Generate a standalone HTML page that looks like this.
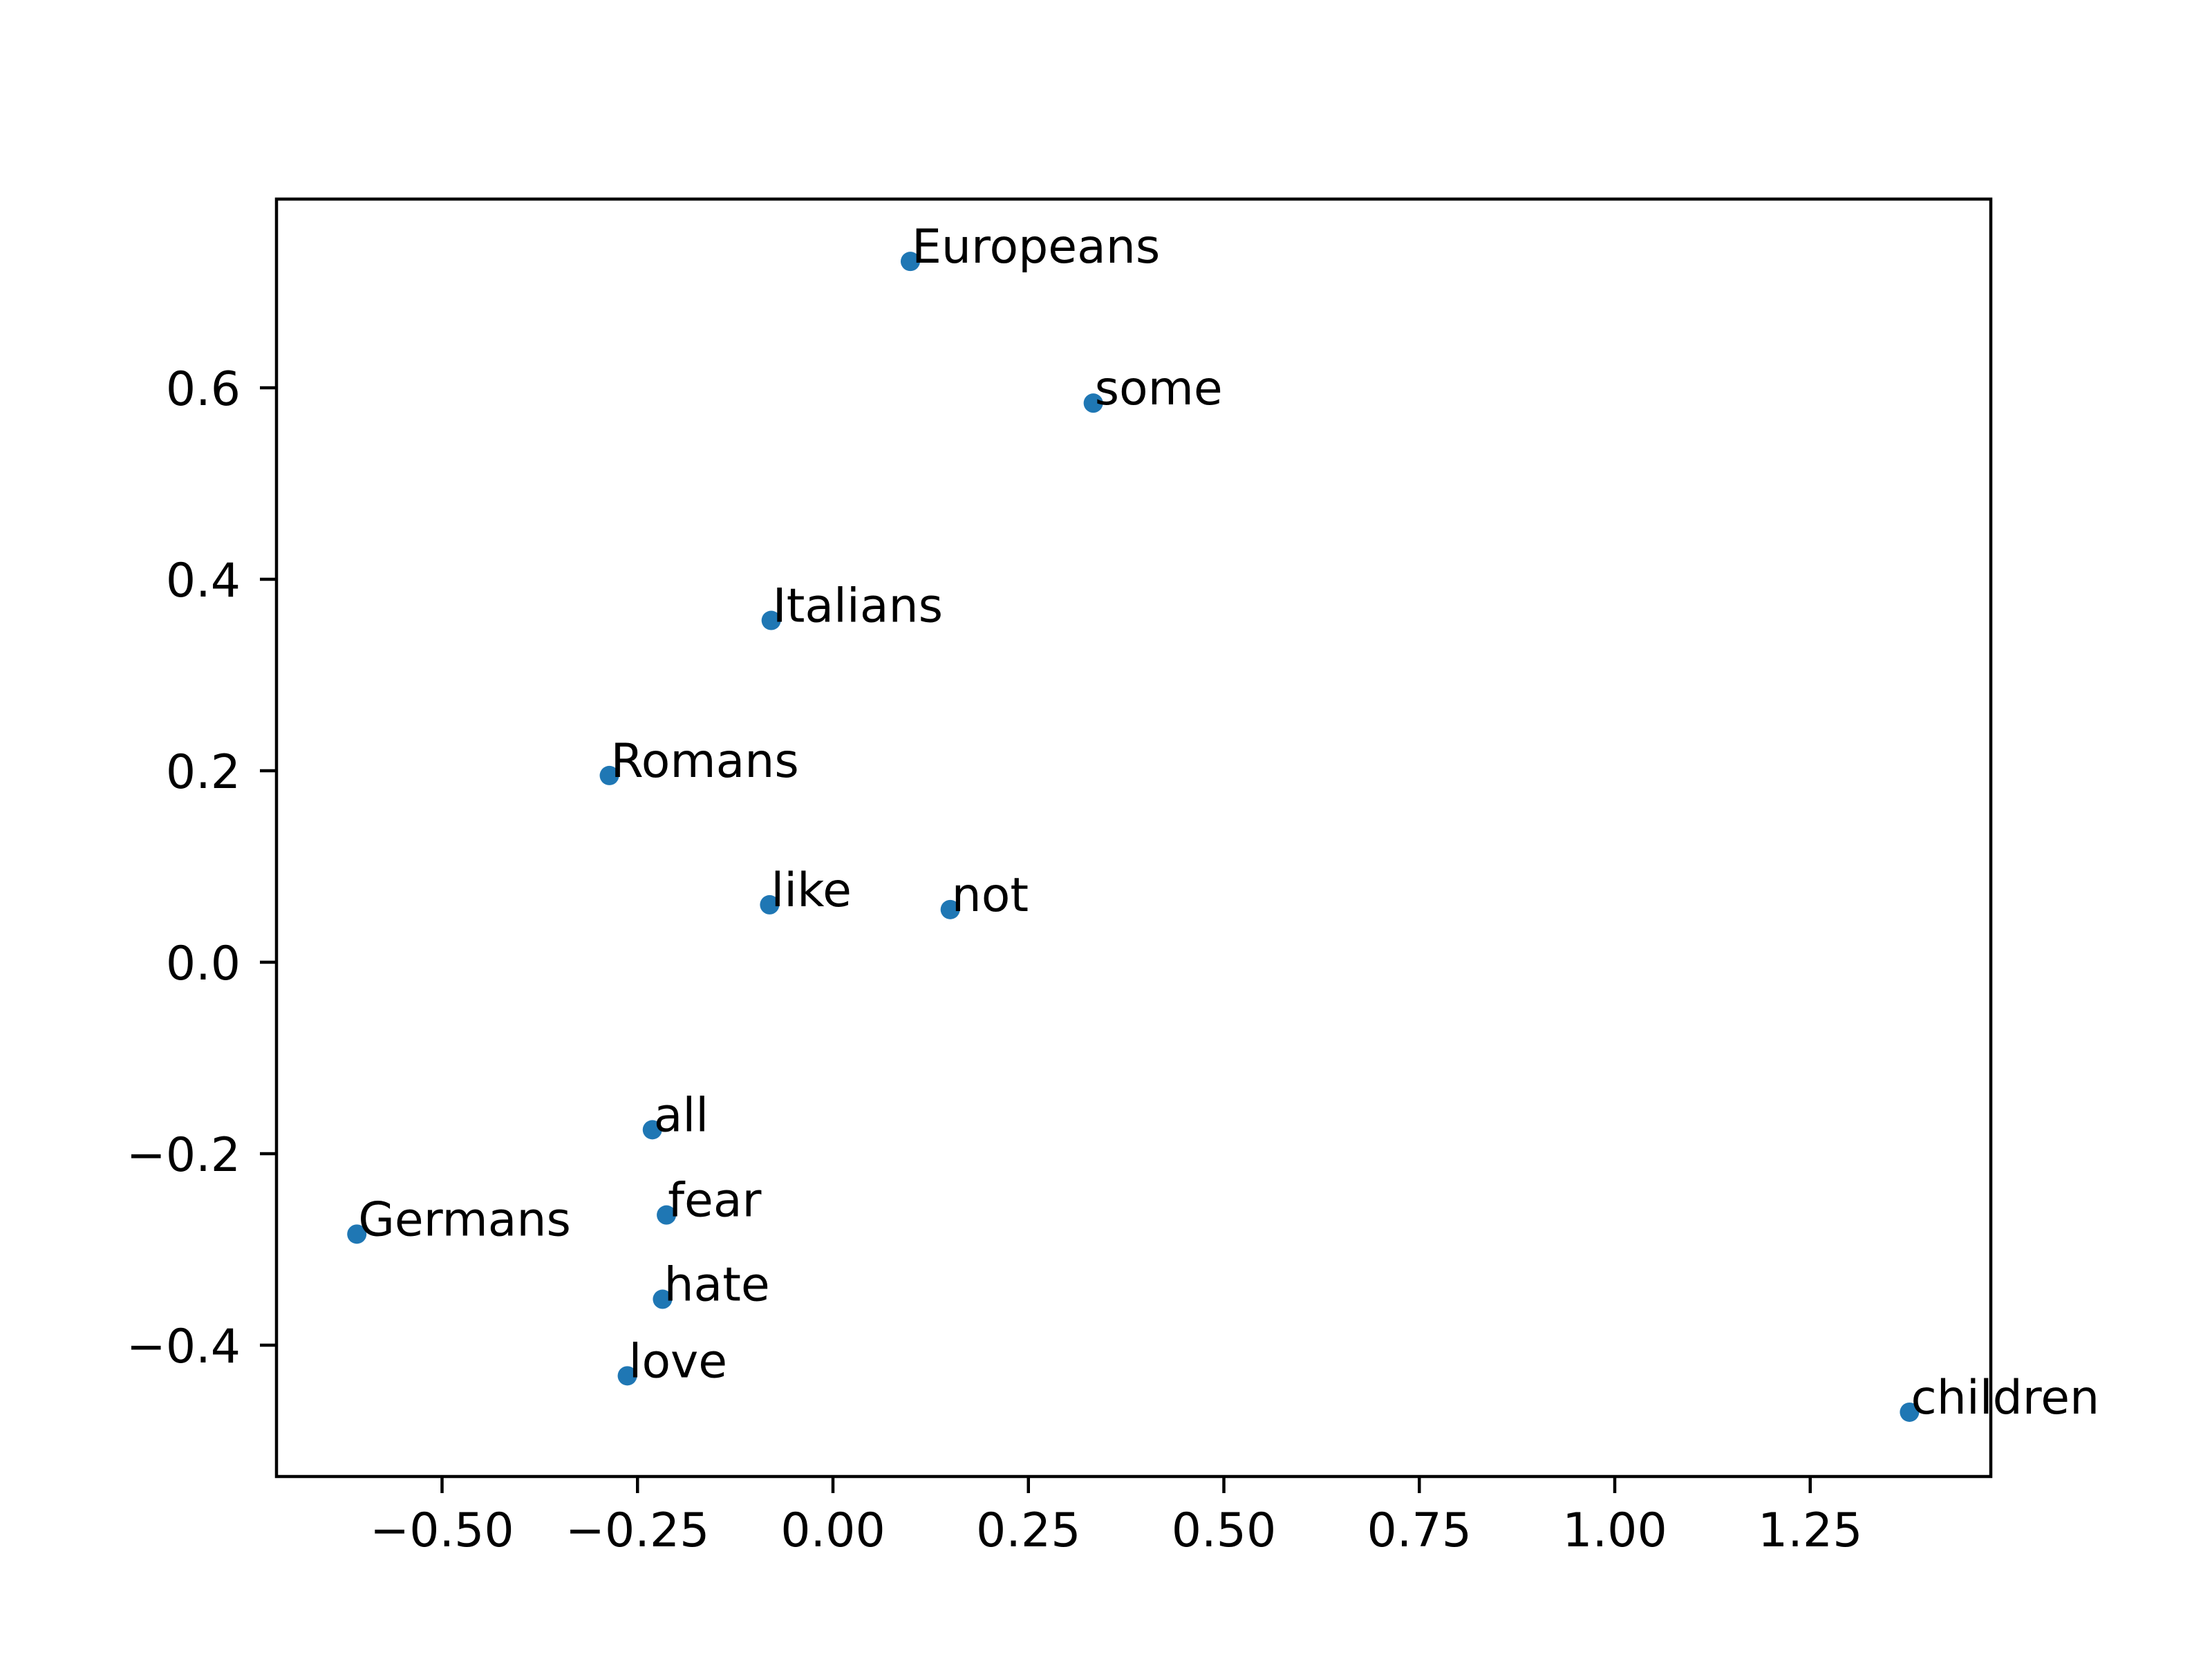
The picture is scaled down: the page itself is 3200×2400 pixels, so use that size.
<!DOCTYPE html>
<html><head><meta charset="utf-8"><style>
html,body{margin:0;padding:0;background:#fff;}
svg{display:block;font-family:"DejaVu Sans","Liberation Sans",sans-serif;}
</style></head><body>
<svg id="chart" width="3200" height="2400" viewBox="0 0 3200 2400" xmlns="http://www.w3.org/2000/svg">
<rect x="0" y="0" width="3200" height="2400" fill="#fff"/>
<g id="marks"></g>
<g id="axes"></g>
</svg>
<script>
const words = ["Europeans","some","Italians","Romans","like","not","all","fear","Germans","hate","love","children"];
const xValues = [0.099,0.333,-0.079,-0.286,-0.081,0.150,-0.231,-0.213,-0.609,-0.218,-0.263,1.377];
const yValues = [0.732,0.584,0.357,0.195,0.060,0.055,-0.175,-0.264,-0.284,-0.352,-0.432,-0.470];
const xTicks = [-0.5,-0.25,0,0.25,0.5,0.75,1.0,1.25];
const xTickLabels = ["−0.50","−0.25","0.00","0.25","0.50","0.75","1.00","1.25"];
const yTicks = [-0.4,-0.2,0,0.2,0.4,0.6];
const yTickLabels = ["−0.4","−0.2","0.0","0.2","0.4","0.6"];

const L=400,R=2880,T=288,B=2136;
const X0=1205, XU=1131, Y0=1392, YU=1385;
function sx(v){return X0+v*XU;}
function sy(v){return Y0-v*YU;}
const NS="http://www.w3.org/2000/svg";
function mk(tag,attrs,parent){const e=document.createElementNS(NS,tag);for(const k in attrs)e.setAttribute(k,attrs[k]);parent.appendChild(e);return e;}
const marks=document.getElementById('marks');
const axes=document.getElementById('axes');

for(let i=0;i<words.length;i++){
  const cx=sx(xValues[i]), cy=sy(yValues[i]);
  const c=mk('circle',{cx:cx,cy:cy,r:14,fill:'#1f77b4'},marks);
  
  
  const t=mk('text',{x:cx+2,y:cy+2,'font-size':68,fill:'#000'},marks);
  t.textContent=words[i];
  
  
}

const frame=mk('rect',{x:L,y:T,width:R-L,height:B-T,fill:'none',stroke:'#000','stroke-width':4.5},axes);



for(let i=0;i<xTicks.length;i++){
  const x=sx(xTicks[i]);
  const tk=mk('line',{x1:x,x2:x,y1:B,y2:B+24,stroke:'#000','stroke-width':4.5},axes);
  
  
  const lb=mk('text',{x:x,y:2237,'font-size':68,'text-anchor':'middle',fill:'#000'},axes);
  lb.textContent=xTickLabels[i];
  
  
}
for(let i=0;i<yTicks.length;i++){
  const y=sy(yTicks[i]);
  const tk=mk('line',{x1:L-24,x2:L,y1:y,y2:y,stroke:'#000','stroke-width':4.5},axes);
  
  
  const lb=mk('text',{x:348,y:y+25,'font-size':68,'text-anchor':'end',fill:'#000'},axes);
  lb.textContent=yTickLabels[i];
  
  
}
</script>
</body></html>
